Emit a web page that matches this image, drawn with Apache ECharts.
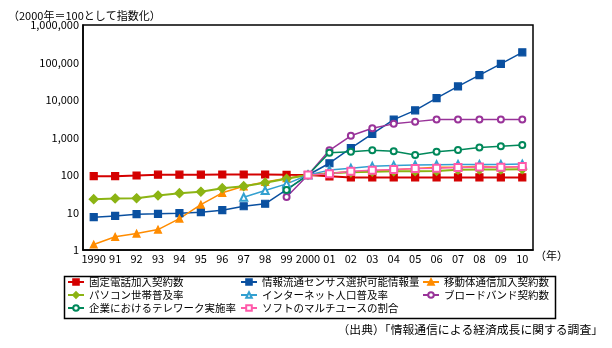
<!DOCTYPE html>
<html>
<head>
<meta charset="utf-8">
<script src="https://cdn.jsdelivr.net/npm/echarts@6/dist/echarts.min.js"></script>
<style>
  html, body { margin: 0; padding: 0; background: #fff; }
  #chart { width: 612px; height: 348px; }
</style>
</head>
<body>
<div id="chart"></div>
<script>
// Year categories along the x axis
const years = ['1990','91','92','93','94','95','96','97','98','99','2000',
               '01','02','03','04','05','06','07','08','09','10'];

// Y axis tick values (log scale)
const yTicks = [1, 10, 100, 1000, 10000, 100000, 1000000];

// Index values, 2000 = 100 (null where no data)
const fixedPhone = [93, 93, 97, 102, 102, 102, 103, 103, 103, 101, 100, 92, 86, 86, 86, 86, 86, 86, 86, 86, 86];
const infoCensus = [7.5, 8.1, 9.0, 9.2, 9.6, 10.2, 11.5, 14.7, 17.1, 41, 100, 206, 520, 1250, 3000, 5300, 11200, 23000, 46000, 92000, 187000];
const mobile     = [1.4, 2.25, 2.75, 3.5, 6.9, 16.3, 33.5, 50, 65, 82, 100, 112, 122, 130, 138, 150, 160, 160, 170, 162, 166];
const pcHouse    = [22.6, 23.6, 24, 28.4, 32.7, 35.7, 44.5, 50.3, 62, 79, 100, 112, 118, 122, 125, 126, 128, 138, 140, 140, 143];
const internet   = [null, null, null, null, null, null, null, 25.6, 38.6, 58, 100, 135, 152, 170, 180, 185, 188, 190, 190, 192, 195];
const broadband  = [null, null, null, null, null, null, null, null, null, 26, 100, 455, 1110, 1770, 2310, 2650, 3000, 3000, 3000, 3000, 3000];
const telework   = [null, null, null, null, null, null, null, null, null, 40, 100, 390, 415, 458, 430, 340, 415, 465, 540, 585, 635];
const softMulti  = [null, null, null, null, null, null, null, null, null, null, 100, 108, 126, 133, 140, 149, 152, 158, 163, 162, 168];

const names = {
  fixedPhone: '固定電話加入契約数',
  infoCensus: '情報流通センサス選択可能情報量',
  mobile: '移動体通信加入契約数',
  pcHouse: 'パソコン世帯普及率',
  internet: 'インターネット人口普及率',
  broadband: 'ブロードバンド契約数',
  telework: '企業におけるテレワーク実施率',
  softMulti: 'ソフトのマルチユースの割合'
};

const FONT = '"Noto Sans CJK JP", "Noto Sans", sans-serif';

function line(name, data, color, symbol, size, width) {
  return {
    name: name,
    type: 'line',
    data: data,
    symbol: symbol,
    symbolSize: size,
    showAllSymbol: true,
    lineStyle: { color: color, width: width },
    itemStyle: { color: color, borderColor: color, borderWidth: 1.2 },
    emphasis: { disabled: true },
    animation: false
  };
}

const legendBase = {
  orient: 'vertical',
  padding: 0,
  itemWidth: 16,
  itemHeight: 7,
  itemGap: 1,
  selectedMode: false,
  textStyle: { fontFamily: FONT, fontSize: 10.5, color: '#000', lineHeight: 12 }
};

const chart = echarts.init(document.getElementById('chart'), null, { renderer: 'canvas' });

chart.setOption({
  backgroundColor: '#fff',
  animation: false,
  grid: {
    left: 83, right: 79, top: 25, bottom: 98,
    show: true, borderColor: '#000', borderWidth: 1.5, backgroundColor: 'transparent'
  },
  title: {
    text: '（2000年＝100として指数化）',
    left: 8, top: 10, padding: 0,
    textStyle: { fontFamily: FONT, fontSize: 11, fontWeight: 'normal', color: '#000' }
  },
  xAxis: {
    type: 'category',
    data: years,
    boundaryGap: true,
    axisLine: { lineStyle: { color: '#000', width: 1.5 } },
    axisTick: { alignWithLabel: true, inside: true, length: 4, lineStyle: { color: '#000' } },
    axisLabel: { interval: 0, margin: 3, color: '#000', fontFamily: FONT, fontSize: 11 },
    splitLine: { show: false }
  },
  yAxis: {
    type: 'log',
    logBase: 10,
    min: yTicks[0],
    max: yTicks[yTicks.length - 1],
    axisLine: { show: true, lineStyle: { color: '#000', width: 1.5 } },
    axisTick: { show: false },
    axisLabel: {
      margin: 4, color: '#000', fontFamily: FONT, fontSize: 11,
      formatter: v => Number(v).toLocaleString('en-US')
    },
    splitLine: { show: false }
  },
  legend: [
    Object.assign({}, legendBase, { left: 67, top: 276, data: [names.fixedPhone, names.pcHouse, names.telework] }),
    Object.assign({}, legendBase, { left: 240, top: 276, data: [names.infoCensus, names.internet, names.softMulti] }),
    Object.assign({}, legendBase, { left: 422, top: 276, data: [names.mobile, names.broadband] })
  ],
  graphic: [
    {
      type: 'rect', left: 62, top: 274, silent: true,
      shape: { width: 491, height: 42 },
      style: { fill: 'none', stroke: '#000', lineWidth: 1.5 },
      z: 0
    },
    {
      type: 'text', left: 535, top: 250, silent: true,
      style: { text: '（年）', font: '11px ' + FONT, fill: '#000' }
    },
    {
      type: 'text', right: 9, top: 324, silent: true,
      style: { text: '（出典）「情報通信による経済成長に関する調査」', font: '11.8px ' + FONT, fill: '#000' }
    }
  ],
  series: [
    line(names.fixedPhone, fixedPhone, '#d40000', 'rect', 7, 2),
    line(names.infoCensus, infoCensus, '#0a50a0', 'rect', 7, 1.5),
    line(names.mobile, mobile, '#ff8c00', 'triangle', 7, 1.5),
    line(names.pcHouse, pcHouse, '#8cb414', 'diamond', 9, 2),
    line(names.internet, internet, '#33a0d0', 'emptyTriangle', 7, 1.5),
    line(names.broadband, broadband, '#993399', 'emptyCircle', 6, 1.5),
    line(names.telework, telework, '#00885a', 'emptyCircle', 6, 1.5),
    line(names.softMulti, softMulti, '#ff5aaa', 'emptyRect', 7, 1.5)
  ]
});
</script>
</body>
</html>
